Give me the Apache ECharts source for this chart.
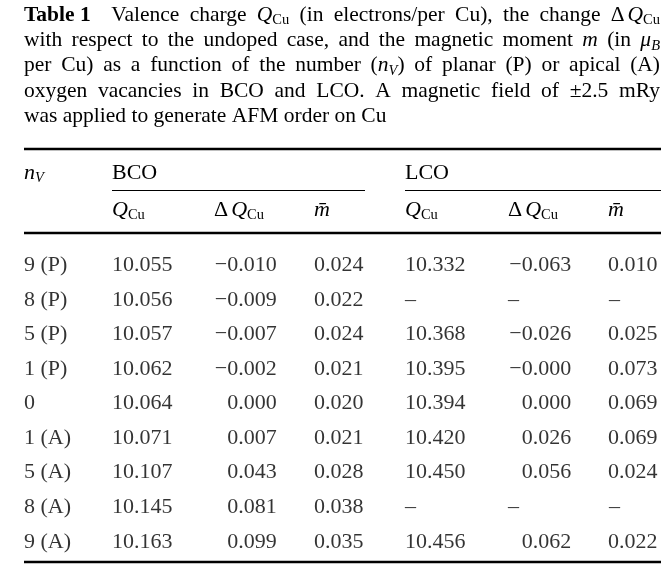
<!DOCTYPE html>
<html>
<head>
<meta charset="utf-8">
<script src="https://cdn.jsdelivr.net/npm/echarts@6/dist/echarts.min.js"></script>
<style>
html, body { margin: 0; padding: 0; background: #fff; }
#main { width: 669px; height: 586px; }
</style>
</head>
<body>
<div id="main"></div>
<script>
// table rows (number of vacancies)
var rowLabels = ['9 (P)', '8 (P)', '5 (P)', '1 (P)', '0', '1 (A)', '5 (A)', '8 (A)', '9 (A)'];
// BCO columns
var bcoQ  = [10.055, 10.056, 10.057, 10.062, 10.064, 10.071, 10.107, 10.145, 10.163];
var bcoDQ = [-0.010, -0.009, -0.007, -0.002, 0.000, 0.007, 0.043, 0.081, 0.099];
var bcoM  = [0.024, 0.022, 0.024, 0.021, 0.020, 0.021, 0.028, 0.038, 0.035];
// LCO columns (null = not computed)
var lcoQ  = [10.332, null, 10.368, 10.395, 10.394, 10.420, 10.450, null, 10.456];
var lcoDQ = [-0.063, null, -0.026, -0.000, 0.000, 0.026, 0.056, null, 0.062];
var lcoM  = [0.010, null, 0.025, 0.073, 0.069, 0.069, 0.024, null, 0.022];
var columns = ['nV', 'bcoQ', 'bcoDQ', 'bcoM', 'lcoQ', 'lcoDQ', 'lcoM'];

var captionLines = [
    '{b|Table 1}  Valence charge {i|Q}{sub|Cu} (in electrons/per Cu), the change \u0394{iq|Q}{sub|Cu}',
    'with respect to the undoped case, and the magnetic moment {i|m} (in {i|\u03bc}{isub|B}',
    'per Cu) as a function of the number ({i|n}{isub|V}) of planar (P) or apical (A)',
    'oxygen vacancies in BCO and LCO. A magnetic field of \u00b12.5 mRy',
    'was applied to generate AFM order on Cu'
];

var FONT = 'Liberation Serif';
var FS = 21.5;   // caption
var TFS = 22;    // table
var SUB = 14.5;

function fmt(v) {
    if (v === null) return '\u2013';
    if (v < 0 || Object.is(v, -0)) return '\u2212' + Math.abs(v).toFixed(3);
    return v.toFixed(3);
}

function makeRich(fs) {
    return {
        b: { fontFamily: FONT, fontSize: fs, fontWeight: 'bold', lineHeight: 26 },
        i: { fontFamily: FONT, fontSize: fs, fontStyle: 'italic', lineHeight: 26 },
        iq: { fontFamily: FONT, fontSize: fs, fontStyle: 'italic', lineHeight: 26, padding: [0, 0, 0, 3] },
        sub: { fontFamily: FONT, fontSize: SUB, lineHeight: 14, verticalAlign: 'bottom' },
        isub: { fontFamily: FONT, fontSize: SUB, fontStyle: 'italic', lineHeight: 13, verticalAlign: 'bottom' }
    };
}
var rich = makeRich(FS);
var headRich = makeRich(TFS);

// justify a caption line: every space becomes a stretched token
var ctx = document.createElement('canvas').getContext('2d');
function fontOf(name) {
    var st = rich[name] || {};
    return (st.fontStyle || 'normal') + ' ' + (st.fontWeight || 'normal') + ' ' +
        (st.fontSize || FS) + 'px "' + FONT + '"';
}
function justify(s, idx, width) {
    var re = /\{(\w+)\|([^}]*)\}|([^{]+)/g, m, w = 0, gaps = 0;
    var spName = 'sp' + idx;
    var parts = [];
    while ((m = re.exec(s)) !== null) {
        if (m[1]) {
            ctx.font = fontOf(m[1]);
            w += ctx.measureText(m[2]).width + (m[1] === 'iq' ? 3 : 0);
            parts.push(m[0]);
        } else {
            ctx.font = fontOf(null);
            var words = m[3].split(' ');
            words.forEach(function (wd) { w += ctx.measureText(wd).width; });
            gaps += words.length - 1;
            parts.push(words.join('{' + spName + '| }'));
        }
    }
    rich[spName] = { fontFamily: FONT, fontSize: FS, lineHeight: 26, width: (width - w) / gaps };
    return parts.join('');
}

function txt(s, x, y, fs, r) {
    return {
        type: 'text', silent: true,
        style: {
            text: s, x: x, y: y, fill: '#000',
            fontFamily: FONT, fontSize: fs, lineHeight: 26,
            textAlign: 'left', textVerticalAlign: 'middle', rich: r
        }
    };
}
function rule(x1, x2, y, w) {
    return {
        type: 'line', silent: true,
        shape: { x1: x1, y1: y, x2: x2, y2: y },
        style: { stroke: '#000', lineWidth: w }
    };
}

var graphics = [];
captionLines.forEach(function (s, i) {
    var line = i < captionLines.length - 1 ? justify(s, i, 660 - 24) : s;
    graphics.push(txt(line, 24, 15 + i * 25.4, FS, rich));
});
graphics.push(rule(24, 661, 149, 2.5));
graphics.push(txt('{i|n}{isub|V}', 24, 173, TFS, headRich));
graphics.push(txt('BCO', 112, 173, TFS, headRich));
graphics.push(txt('LCO', 405, 173, TFS, headRich));
graphics.push(rule(112, 365, 190.5, 1.2));
graphics.push(rule(405, 661, 190.5, 1.2));
var qHead = '{i|Q}{sub|Cu}', dqHead = '\u0394{iq|Q}{sub|Cu}', mHead = '{i|m\u0304}';
graphics.push(txt(qHead, 112, 210, TFS, headRich));
graphics.push(txt(dqHead, 214, 210, TFS, headRich));
graphics.push(txt(mHead, 314, 210, TFS, headRich));
graphics.push(txt(qHead, 405, 210, TFS, headRich));
graphics.push(txt(dqHead, 508, 210, TFS, headRich));
graphics.push(txt(mHead, 608, 210, TFS, headRich));
graphics.push(rule(24, 661, 233, 2.5));
graphics.push(rule(24, 661, 562, 2.5));

// one scatter series per column, labels only
function colSeries(ci, texts, align, dx, dashDx) {
    return {
        type: 'scatter',
        symbolSize: 1,
        silent: true,
        itemStyle: { color: 'transparent' },
        data: texts.map(function (t, ri) {
            var item = { value: [ci, ri], name: t };
            if (t === '\u2013') item.label = { align: 'left', offset: [dashDx, 0] };
            return item;
        }),
        label: {
            show: true, position: 'inside', formatter: '{b}',
            align: align, verticalAlign: 'middle', offset: [dx, 0],
            fontFamily: FONT, fontSize: TFS, color: '#000'
        }
    };
}

var chart = echarts.init(document.getElementById('main'));
chart.setOption({
    animation: false,
    grid: { left: 24, right: 9, top: 248, height: 311 },
    xAxis: { type: 'category', data: columns, show: false },
    yAxis: { type: 'category', data: rowLabels, inverse: true, show: false },
    graphic: graphics,
    series: [
        colSeries(0, rowLabels, 'left', -45.4, -45.4),
        colSeries(1, bcoQ.map(fmt), 'left', -48.3, -48.3),
        colSeries(2, bcoDQ.map(fmt), 'right', 25.5, 25.5),
        colSeries(3, bcoM.map(fmt), 'left', -28, -28),
        colSeries(4, lcoQ.map(fmt), 'left', -27.9, -27.9),
        colSeries(5, lcoDQ.map(fmt), 'right', 47.5, -15.7),
        colSeries(6, lcoM.map(fmt), 'left', -6.6, -5.6)
    ]
});
</script>
</body>
</html>
